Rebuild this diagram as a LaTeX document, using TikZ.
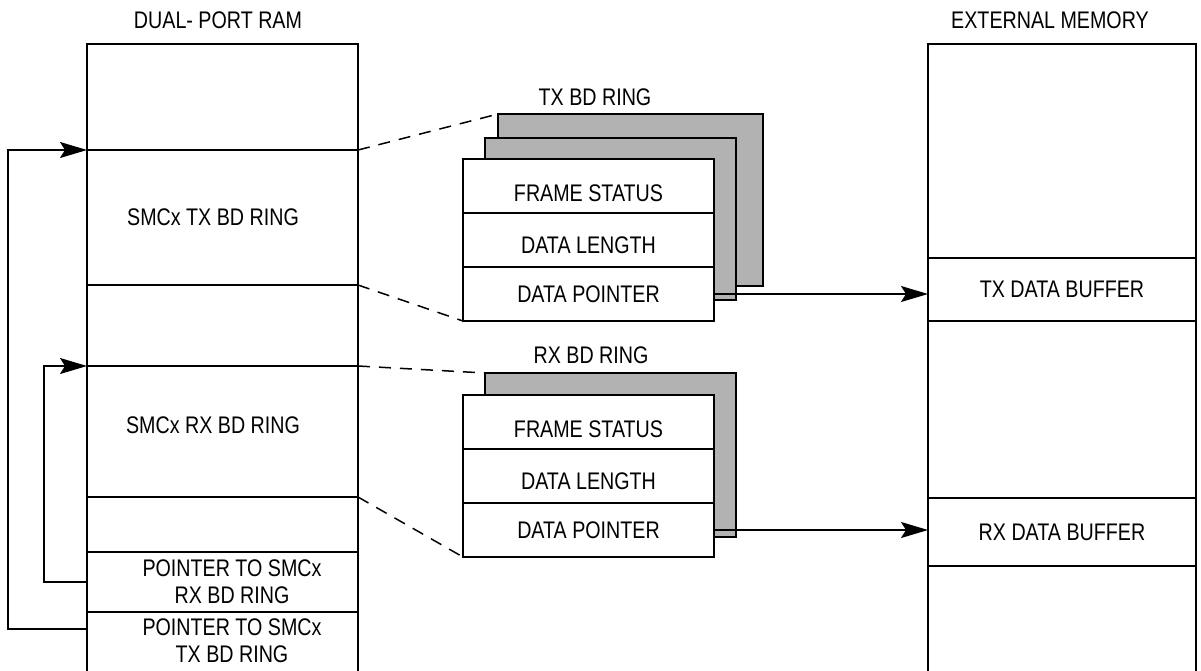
\documentclass[tikz,border=0pt]{standalone}
\usepackage{fontspec}
\setmainfont{Liberation Sans}[FakeStretch=0.82]
\usetikzlibrary{arrows.meta,positioning}

\begin{document}
\begin{tikzpicture}[x=1pt,y=-1pt,>={Stealth[length=27pt,width=16pt,inset=5pt]},
  font=\fontsize{24}{27}\selectfont,
  cell/.style={draw,line width=2pt,inner sep=0pt,outer sep=0pt},
  bdrow/.style={draw,line width=2.5pt,fill=white,inner sep=0pt,outer sep=0pt,minimum width=251,minimum height=54},
  shade/.style={draw,line width=2.5pt,fill=black!30,inner sep=0pt,outer sep=0pt},
  ptr/.style={->,line width=1.5pt},
  link/.style={line width=1.5pt,dash pattern=on 12pt off 9pt}]
\path[use as bounding box,clip] (0,0) rectangle (1201,670);
% dual-port ram
\node (dpr) at (218,20) {DUAL- PORT RAM};
\node[cell,minimum width=271,minimum height=106] (ramtop) at (222.5,97) {};
\node[cell,minimum width=271,minimum height=135,below=0pt of ramtop] (ramtx) {};
\node[cell,minimum width=271,minimum height=81,below=0pt of ramtx] (ramgapa) {};
\node[cell,minimum width=271,minimum height=131,below=0pt of ramgapa] (ramrx) {};
\node[cell,minimum width=271,minimum height=55,below=0pt of ramrx] (ramgapb) {};
\node[cell,minimum width=271,minimum height=60,below=0pt of ramgapb] (ramprx) {};
\node[cell,minimum width=271,minimum height=62,below=0pt of ramprx] (ramptx) {};
\node (ramtxl) at (213,217) {SMCx TX BD RING};
\node (ramrxl) at (213,425) {SMCx RX BD RING};
\node[align=center] (ramprxl) at (232,582) {POINTER TO SMCx\\RX BD RING};
\node[align=center] (ramptxl) at (232,641) {POINTER TO SMCx\\TX BD RING};
% external memory
\node (extm) at (1050,20) {EXTERNAL MEMORY};
\node[cell,minimum width=268,minimum height=214] (extop) at (1062,151) {};
\node[cell,minimum width=268,minimum height=63,below=0pt of extop] (txbuf) {TX DATA BUFFER};
\node[cell,minimum width=268,minimum height=177,below=0pt of txbuf] (exmid) {};
\node[cell,minimum width=268,minimum height=68,below=0pt of exmid] (rxbuf) {RX DATA BUFFER};
\node[cell,minimum width=268,minimum height=108,below=0pt of rxbuf] (exbot) {};
% tx bd ring
\node (txring) at (595,97) {TX BD RING};
\node[shade,minimum width=265,minimum height=172] (txback) at (630.5,200) {};
\node[shade,minimum width=251,minimum height=162] (txmid) at (610.5,219) {};
\node[bdrow,text height=30pt,text depth=0pt] (txfs) at (588.5,186) {FRAME STATUS};
\node[bdrow,text height=27pt,text depth=0pt,below=0pt of txfs] (txdl) {DATA LENGTH};
\node[bdrow,below=0pt of txdl] (txdp) {DATA POINTER};
% rx bd ring
\node (rxring) at (591,355) {RX BD RING};
\node[shade,minimum width=251,minimum height=164] (rxback) at (610.5,455) {};
\node[bdrow,text height=30pt,text depth=0pt] (rxfs) at (588.5,422) {FRAME STATUS};
\node[bdrow,text height=27pt,text depth=0pt,below=0pt of rxfs] (rxdl) {DATA LENGTH};
\node[bdrow,below=0pt of rxdl] (rxdp) {DATA POINTER};
% connectors
\draw[link] (ramtx.north east) -- (txback.north west);
\draw[link] (ramtx.south east) -- (txdp.south west);
\draw[link] (ramrx.north east) -- (rxback.north west);
\draw[link] (ramrx.south east) -- (rxdp.south west);
\draw[ptr] (txdp.east) -- (txdp.east -| txbuf.west);
\draw[ptr] (rxdp.east) -- (rxdp.east -| rxbuf.west);
\draw[ptr] ([yshift=14pt]ramptx.west) -- ++(-79,0) |- (ramtx.north west);
\draw[ptr] (ramprx.west) -- ++(-43,0) |- (ramrx.north west);
\end{tikzpicture}
\end{document}
